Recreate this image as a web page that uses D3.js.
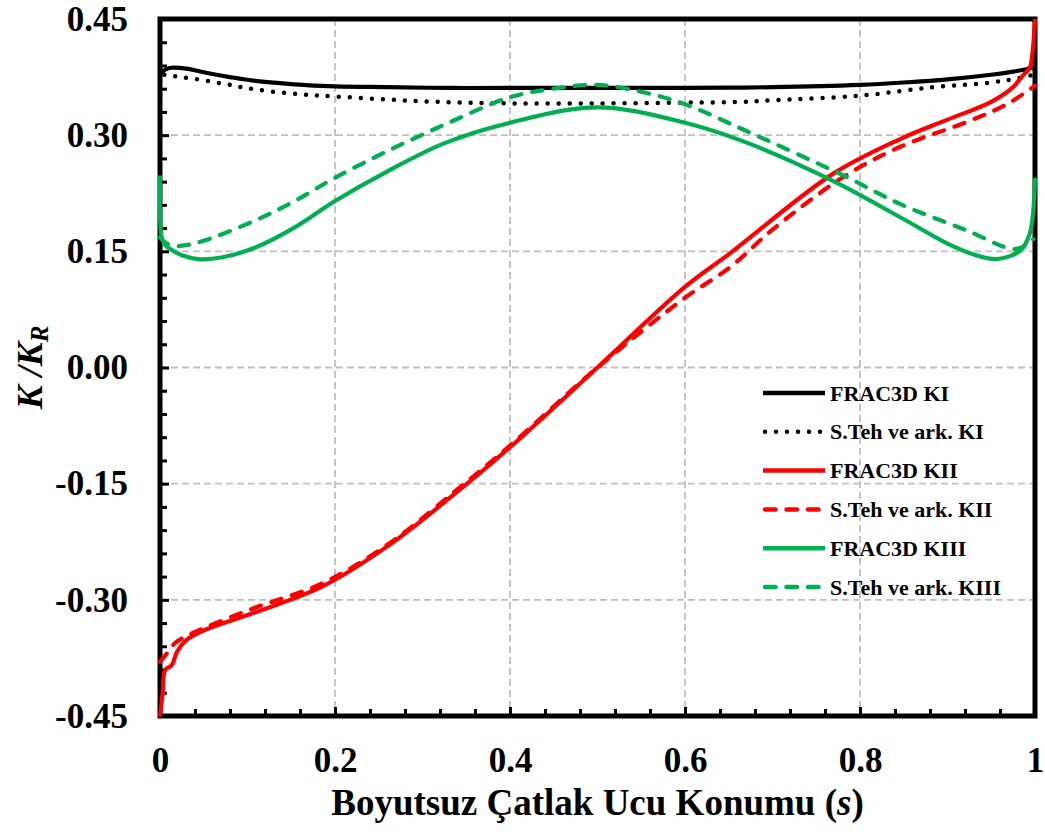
<!DOCTYPE html>
<meta charset="utf-8">
<script src="https://d3js.org/d3.v7.min.js"></script>
<style>
    body { margin: 0; background: #fff; }
    text { font-family: "Liberation Serif", "Times New Roman", serif; font-weight: bold; }
</style>
<svg width="1045" height="832"></svg>
<script>

    // FRAC3D KI
    const sFracKI = [0, 0.005, 0.013, 0.03, 0.051, 0.08, 0.109, 0.15, 0.2, 0.26, 0.33, 0.4, 0.5, 0.6, 0.7, 0.8, 0.85, 0.9, 0.95, 0.975, 0.99, 0.995, 1]
    const fracKI = [0.377, 0.384, 0.387, 0.386, 0.381, 0.375, 0.370, 0.366, 0.363, 0.362, 0.361, 0.361, 0.361, 0.361, 0.362, 0.365, 0.368, 0.372, 0.378, 0.382, 0.385, 0.387, 0.386]

    // S.Teh ve ark. KI
    const sTehKI = [0.005, 0.025, 0.07, 0.109, 0.158, 0.2, 0.261, 0.318, 0.4, 0.5, 0.6, 0.665, 0.7, 0.8, 0.884, 0.95, 0.983, 0.995]
    const tehKI = [0.378, 0.375, 0.367, 0.359, 0.353, 0.350, 0.346, 0.343, 0.341, 0.341, 0.342, 0.343, 0.345, 0.351, 0.362, 0.368, 0.374, 0.377]

    // FRAC3D KII
    const sFracKII = [0, 0.003, 0.006, 0.013, 0.02, 0.03, 0.051, 0.109, 0.185, 0.261, 0.337, 0.4, 0.5, 0.6, 0.651, 0.769, 0.846, 0.9, 0.95, 0.975, 0.986, 0.994, 0.997, 1]
    const fracKII = [-0.451, -0.42, -0.39, -0.385, -0.366, -0.352, -0.339, -0.316, -0.283, -0.230, -0.163, -0.103, 0.0, 0.104, 0.147, 0.250, 0.295, 0.320, 0.343, 0.362, 0.377, 0.387, 0.405, 0.45]

    // S.Teh ve ark. KII
    const sTehKII = [0, 0.008, 0.017, 0.03, 0.051, 0.109, 0.185, 0.261, 0.337, 0.4, 0.5, 0.6, 0.651, 0.7, 0.781, 0.846, 0.922, 0.968, 1]
    const tehKII = [-0.380, -0.369, -0.356, -0.347, -0.336, -0.310, -0.279, -0.228, -0.160, -0.101, 0.0, 0.090, 0.129, 0.178, 0.246, 0.285, 0.317, 0.340, 0.364]

    // FRAC3D KIII
    const sFracKIII = [0, 0.002, 0.006, 0.013, 0.025, 0.044, 0.07, 0.109, 0.154, 0.2, 0.261, 0.326, 0.4, 0.5, 0.6, 0.669, 0.769, 0.846, 0.9, 0.93, 0.956, 0.983, 0.994, 1]
    const fracKIII = [0.248, 0.168, 0.158, 0.152, 0.145, 0.140, 0.142, 0.155, 0.181, 0.215, 0.254, 0.290, 0.316, 0.336, 0.316, 0.291, 0.241, 0.194, 0.160, 0.146, 0.140, 0.151, 0.173, 0.245]

    // S.Teh ve ark. KIII
    const sTehKIII = [0, 0.008, 0.017, 0.03, 0.051, 0.109, 0.154, 0.2, 0.261, 0.33, 0.4, 0.45, 0.5, 0.554, 0.6, 0.669, 0.781, 0.846, 0.922, 0.975, 0.99, 0.998]
    const tehKIII = [0.168, 0.160, 0.157, 0.158, 0.164, 0.190, 0.215, 0.245, 0.280, 0.316, 0.349, 0.360, 0.365, 0.355, 0.340, 0.306, 0.248, 0.211, 0.177, 0.153, 0.158, 0.166]

    const xTicks = [0, 0.2, 0.4, 0.6, 0.8, 1]
    const xTickLabels = ['0', '0.2', '0.4', '0.6', '0.8', '1']
    const yTicks = [-0.45, -0.30, -0.15, 0.00, 0.15, 0.30, 0.45]
    const yTickLabels = ['-0.45', '-0.30', '-0.15', '0.00', '0.15', '0.30', '0.45']

    const series = [
        {name: 'FRAC3D KI', s: sFracKI, v: fracKI, color: '#000000', dash: null},
        {name: 'S.Teh ve ark. KI', s: sTehKI, v: tehKI, color: '#000000', dash: 'dot'},
        {name: 'FRAC3D KII', s: sFracKII, v: fracKII, color: '#FF0000', dash: null},
        {name: 'S.Teh ve ark. KII', s: sTehKII, v: tehKII, color: '#FF0000', dash: 'dash'},
        {name: 'FRAC3D KIII', s: sFracKIII, v: fracKIII, color: '#00B050', dash: null},
        {name: 'S.Teh ve ark. KIII', s: sTehKIII, v: tehKIII, color: '#00B050', dash: 'dash'}
    ]

    const pL = 160, pR = 1035, pT = 19, pB = 716

    const x = d3.scaleLinear().domain([0, 1]).range([pL, pR])
    const y = d3.scaleLinear().domain([-0.45, 0.45]).range([pB, pT])

    const svg = d3.select('svg')

    function dashArray(d) {
        if (d.dash === 'dot') return '0 11'
        if (d.dash === 'dash') return '10.5 11'
        return null
    }

    // grid
    svg.append('g')
        .selectAll('line')
        .data(xTicks.slice(1, -1))
        .enter().append('line')
        .attr('x1', d => x(d)).attr('x2', d => x(d))
        .attr('y1', pT).attr('y2', pB)
        .attr('stroke', '#BFBFBF').attr('stroke-width', 1.8)
        .attr('stroke-dasharray', '7 4')

    svg.append('g')
        .selectAll('line')
        .data(yTicks.slice(1, -1))
        .enter().append('line')
        .attr('x1', pL).attr('x2', pR)
        .attr('y1', d => y(d)).attr('y2', d => y(d))
        .attr('stroke', '#BFBFBF').attr('stroke-width', 1.8)
        .attr('stroke-dasharray', '7 4')

    // ticks, pointing inward
    const xMinor = d3.range(0, 26).map(i => i * 0.04).filter(d => Math.abs(d * 5 - Math.round(d * 5)) > 1e-6)
    const yMinor = d3.range(0, 31).map(i => -0.45 + i * 0.03).filter(d => Math.abs(d / 0.15 - Math.round(d / 0.15)) > 1e-6)

    const tickStyle = g => {
        g.select('.domain').remove()
        g.selectAll('line').attr('stroke', '#000').attr('stroke-width', 3)
        g.selectAll('text')
            .attr('fill', '#000')
            .style('font-family', '"Liberation Serif", "Times New Roman", serif')
            .style('font-weight', 'bold')
            .style('font-size', '35px')
    }

    svg.append('g')
        .attr('transform', 'translate(0,' + pB + ')')
        .call(d3.axisBottom(x).tickValues(xMinor).tickSize(-7).tickFormat(''))
        .call(tickStyle)

    svg.append('g')
        .attr('transform', 'translate(0,' + pB + ')')
        .call(d3.axisBottom(x).tickValues(xTicks).tickSize(-9).tickPadding(31)
            .tickFormat((d, i) => xTickLabels[i]))
        .call(tickStyle)

    svg.append('g')
        .attr('transform', 'translate(' + pL + ',0)')
        .call(d3.axisLeft(y).tickValues(yMinor).tickSize(-7).tickFormat(''))
        .call(tickStyle)

    svg.append('g')
        .attr('transform', 'translate(' + pL + ',0)')
        .call(d3.axisLeft(y).tickValues(yTicks).tickSize(-9).tickPadding(32)
            .tickFormat((d, i) => yTickLabels[i]))
        .call(tickStyle)

    // frame
    svg.append('rect')
        .attr('x', pL).attr('y', pT)
        .attr('width', pR - pL).attr('height', pB - pT)
        .attr('fill', 'none')
        .attr('stroke', '#000')
        .attr('stroke-width', 5)

    // curves, drawn over the frame like the original
    svg.append('clipPath').attr('id', 'plot')
        .append('rect')
        .attr('x', pL - 2).attr('y', pT - 1)
        .attr('width', pR - pL + 4).attr('height', pB - pT + 2)

    const line = d3.line()
        .x(d => x(d[0]))
        .y(d => y(d[1]))
        .curve(d3.curveCatmullRom.alpha(0.5))

    svg.append('g')
        .attr('clip-path', 'url(#plot)')
        .selectAll('path')
        .data(series)
        .enter().append('path')
        .attr('d', d => line(d.s.map((s, i) => [s, d.v[i]])))
        .attr('fill', 'none')
        .attr('stroke', d => d.color)
        .attr('stroke-width', d => d.dash === 'dot' ? 4.5 : 4.2)
        .attr('stroke-linecap', d => d.dash ? 'round' : 'butt')
        .attr('stroke-linejoin', 'round')
        .attr('stroke-dasharray', dashArray)

    // axis titles
    const xt = svg.append('text')
        .attr('x', (pL + pR) / 2)
        .attr('y', 815)
        .attr('text-anchor', 'middle')
        .style('font-size', '37px')
    xt.append('tspan').text('Boyutsuz Çatlak Ucu Konumu (')
    xt.append('tspan').style('font-style', 'italic').text('s')
    xt.append('tspan').text(')')

    const yt = svg.append('text')
        .attr('transform', 'translate(42,' + ((pT + pB) / 2) + ') rotate(-90)')
        .attr('text-anchor', 'middle')
        .style('font-size', '36px')
        .style('font-style', 'italic')
    yt.append('tspan').text('K /K')
    yt.append('tspan').attr('dy', '0.25em').style('font-size', '25px').text('R')

    // legend
    const legend = svg.append('g')
        .selectAll('g')
        .data(series)
        .enter().append('g')
        .attr('transform', (d, i) => 'translate(0,' + (393 + i * 38.8) + ')')

    legend.append('line')
        .attr('x1', d => d.dash ? 765 : 763)
        .attr('x2', d => d.dash ? 823 : 825)
        .attr('y1', 0).attr('y2', 0)
        .attr('stroke', d => d.color)
        .attr('stroke-width', 4.5)
        .attr('stroke-linecap', d => d.dash ? 'round' : 'butt')
        .attr('stroke-dasharray', dashArray)

    legend.append('text')
        .attr('x', 830)
        .attr('y', 7.5)
        .style('font-size', '22px')
        .text(d => d.name)

</script>
